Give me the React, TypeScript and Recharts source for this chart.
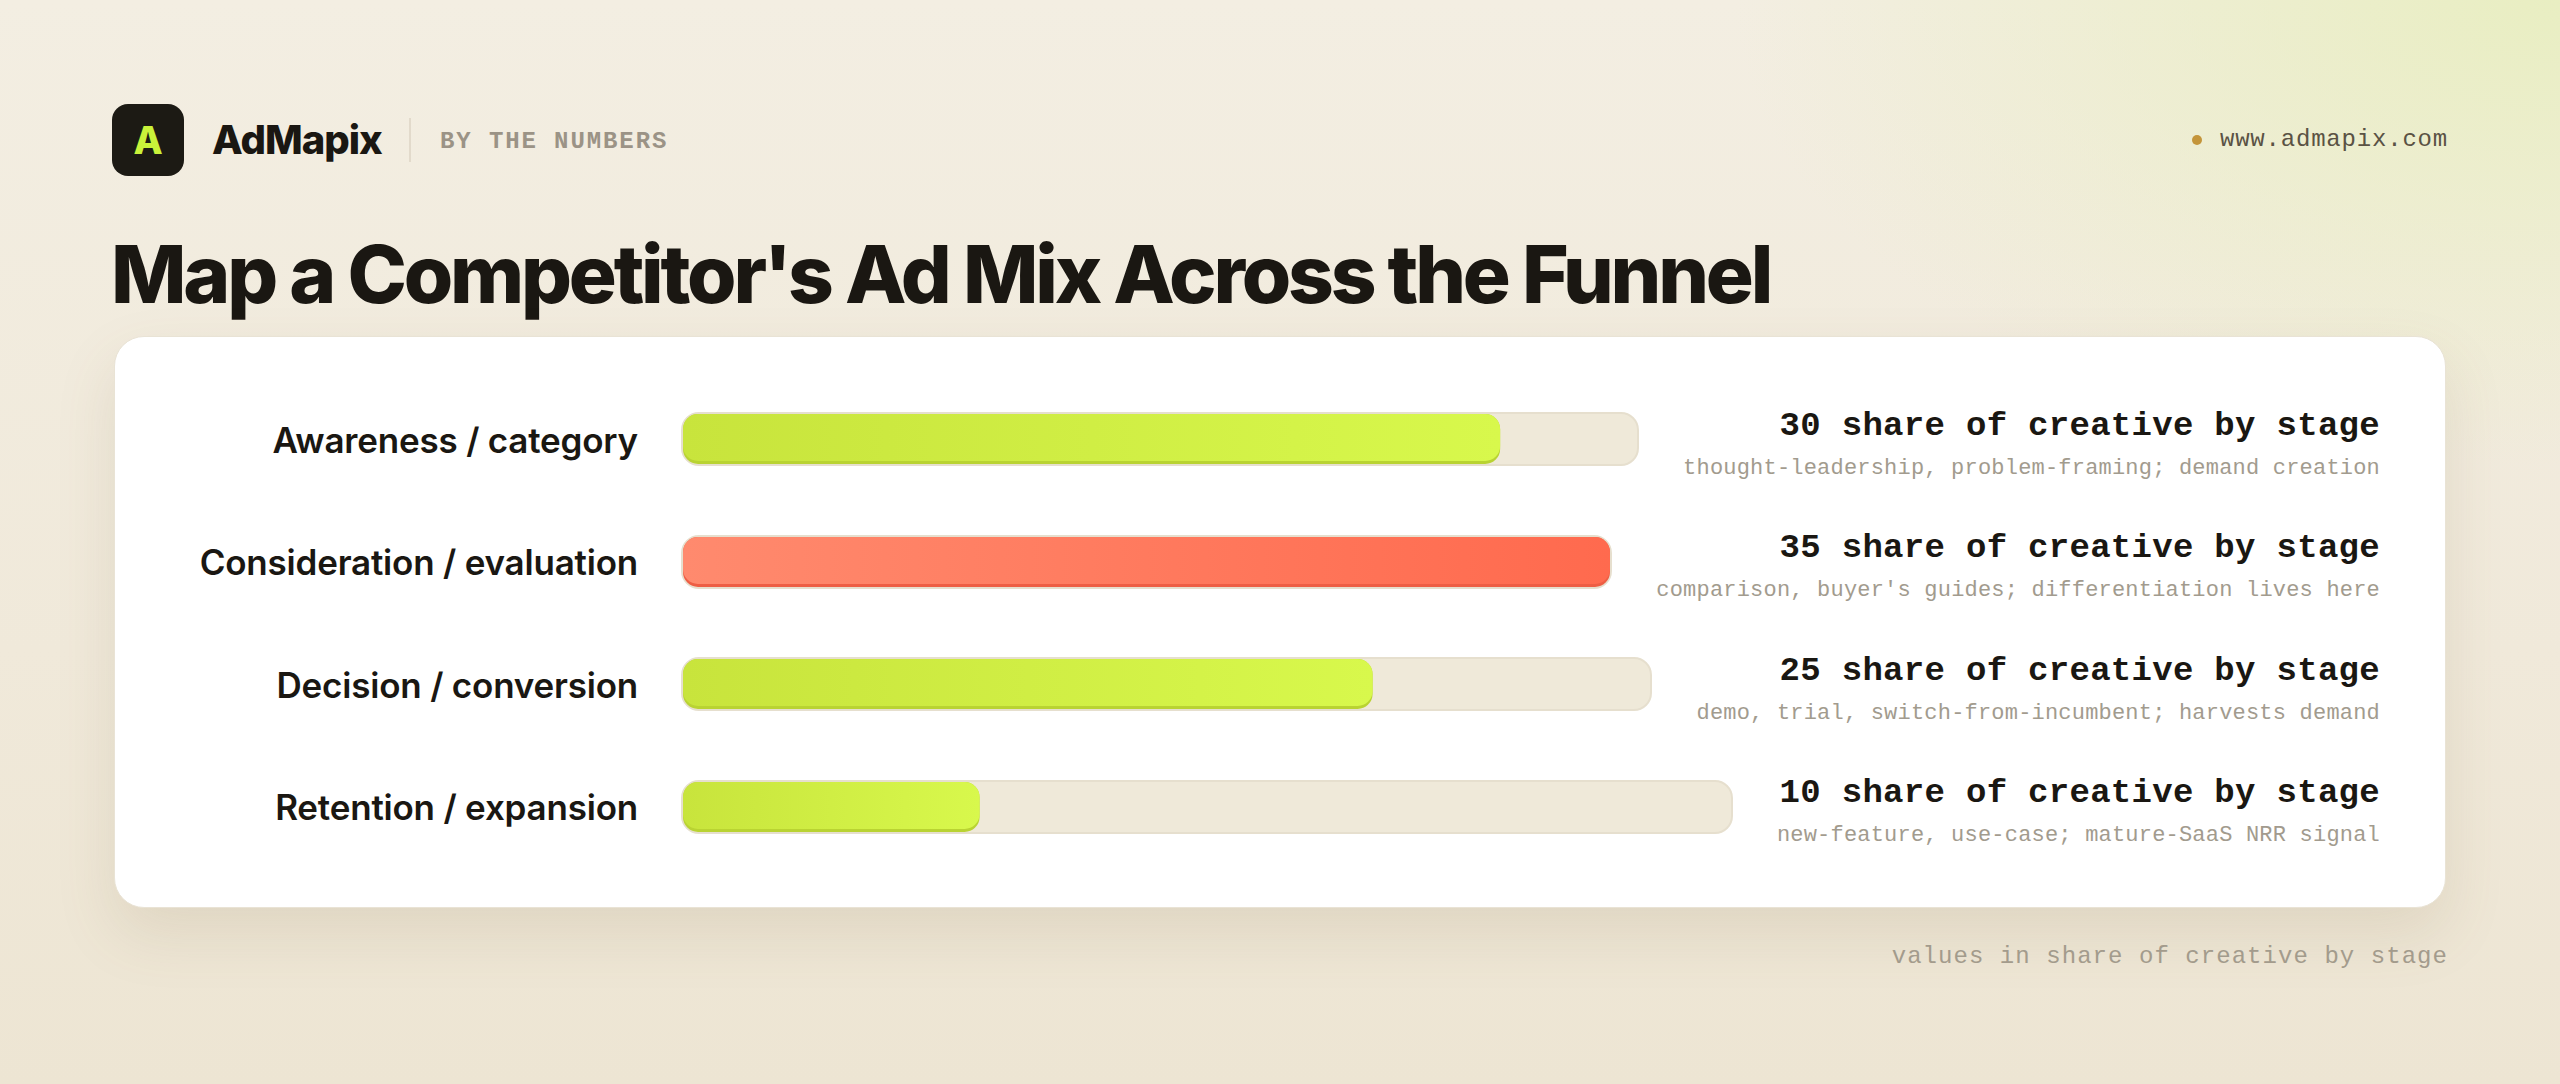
import React from 'react';
import { BarChart, Bar, XAxis, YAxis, ResponsiveContainer } from 'recharts';

// funnel stages, top to bottom
const stages = [
  'Awareness / category',
  'Consideration / evaluation',
  'Decision / conversion',
  'Retention / expansion',
];
const shares = [30, 35, 25, 10];
const notes = [
  'thought-leadership, problem-framing; demand creation',
  "comparison, buyer's guides; differentiation lives here",
  'demo, trial, switch-from-incumbent; harvests demand',
  'new-feature, use-case; mature-SaaS NRR signal',
];
const highlighted = [false, true, false, false];
const unitLabel = 'share of creative by stage';

const maxShare = Math.max(...shares);

const SANS = 'Inter, "Noto Sans", sans-serif';
const MONO = '"Liberation Mono", "DejaVu Sans Mono", monospace';

const palette = {
  lime: { from: '#c8e43c', to: '#d8f84c', shade: '#b9d332' },
  coral: { from: '#ff8a6e', to: '#ff6a4e', shade: '#ee5e44' },
};

const TrackShape = (props: any) => {
  const { x, y, width, height } = props;
  if (width == null || height == null) return null;
  return (
    <rect
      x={x + 1}
      y={y + 1}
      width={Math.max(0, width - 2)}
      height={height - 2}
      rx={17}
      ry={17}
      fill="#efe9d9"
      stroke="#e6dfce"
      strokeWidth={2}
    />
  );
};

const makeFill = (gradId: string, shade: string) => (props: any) => {
  const { x, y, width, height } = props;
  if (!width || width < 6) return null;
  const w = width - 4;
  return (
    <g>
      <rect x={x + 2} y={y + 2} width={w} height={height - 4} rx={15} ry={15} fill={shade} />
      <rect x={x + 2} y={y + 2} width={w} height={height - 7} rx={15} ry={15} fill={`url(#${gradId})`} />
    </g>
  );
};

const StageRow = ({ i }: { i: number }) => {
  const tone = highlighted[i] ? palette.coral : palette.lime;
  const gradId = `stageGrad${i}`;
  const rowData = [{ stage: stages[i], share: shares[i] }];

  return (
    <div style={{ display: 'flex', alignItems: 'center', height: 122.5 }}>
      <div
        style={{
          width: 458,
          flexShrink: 0,
          textAlign: 'right',
          fontFamily: SANS,
          fontWeight: 600,
          fontSize: 35,
          lineHeight: 1,
          letterSpacing: -0.2,
          color: '#1a1712',
          position: 'relative',
          top: 1,
        }}
      >
        {stages[i]}
      </div>
      <div style={{ flex: 1, minWidth: 0, height: 60, marginLeft: 43, marginRight: 44 }}>
        <ResponsiveContainer width="100%" height={60}>
          <BarChart
            data={rowData}
            layout="vertical"
            margin={{ top: 0, right: 0, bottom: 0, left: 0 }}
            barCategoryGap={0}
          >
            <defs>
              <linearGradient id={gradId} x1="0" y1="0" x2="1" y2="0">
                <stop offset="0%" stopColor={tone.from} />
                <stop offset="100%" stopColor={tone.to} />
              </linearGradient>
            </defs>
            <XAxis type="number" domain={[0, maxShare]} hide />
            <YAxis type="category" dataKey="stage" hide />
            <Bar
              dataKey="share"
              barSize={60}
              background={TrackShape}
              shape={makeFill(gradId, tone.shade)}
              isAnimationActive={false}
            />
          </BarChart>
        </ResponsiveContainer>
      </div>
      <div style={{ flexShrink: 0, textAlign: 'right', position: 'relative', top: 5 }}>
        <div
          style={{
            fontFamily: MONO,
            fontWeight: 700,
            fontSize: 34,
            lineHeight: '40px',
            letterSpacing: 0.3,
            color: '#1a1712',
            whiteSpace: 'nowrap',
          }}
        >
          {shares[i]} {unitLabel}
        </div>
        <div
          style={{
            marginTop: 9,
            fontFamily: MONO,
            fontSize: 22,
            lineHeight: '28px',
            letterSpacing: 0.2,
            color: '#a29b8e',
            whiteSpace: 'nowrap',
          }}
        >
          {notes[i]}
        </div>
      </div>
    </div>
  );
};

export default function App() {
  return (
    <div
      style={{
        position: 'absolute',
        left: 0,
        top: 0,
        width: 2560,
        height: 1084,
        overflow: 'hidden',
        background:
          'radial-gradient(ellipse 1100px 620px at 100% 0%, rgba(232,238,192,0.95) 0%, rgba(232,238,192,0) 75%), linear-gradient(180deg, #f3eee2 0%, #f0e9da 60%, #ede5d3 100%)',
      }}
    >
      {/* header */}
      <div
        style={{
          position: 'absolute',
          left: 112,
          top: 104,
          width: 72,
          height: 72,
          borderRadius: 16,
          background: '#1c1a14',
          display: 'flex',
          alignItems: 'center',
          justifyContent: 'center',
          fontFamily: SANS,
          fontWeight: 800,
          fontSize: 38,
          color: '#c9f23a',
          lineHeight: 1,
        }}
      >
        A
      </div>
      <div
        style={{
          position: 'absolute',
          left: 212,
          top: 120,
          fontFamily: SANS,
          fontWeight: 800,
          fontSize: 40,
          lineHeight: 1,
          letterSpacing: -1,
          color: '#1a1712',
        }}
      >
        AdMapix
      </div>
      <div style={{ position: 'absolute', left: 409, top: 118, width: 2, height: 44, background: '#e2dacb' }} />
      <div
        style={{
          position: 'absolute',
          left: 440,
          top: 130,
          fontFamily: MONO,
          fontWeight: 700,
          fontSize: 24,
          lineHeight: 1,
          letterSpacing: 1.9,
          color: '#9b9386',
          whiteSpace: 'nowrap',
        }}
      >
        BY THE NUMBERS
      </div>
      <div
        style={{
          position: 'absolute',
          right: 2560 - 2448,
          top: 128,
          display: 'flex',
          alignItems: 'center',
          fontFamily: MONO,
          fontSize: 24,
          lineHeight: 1,
          letterSpacing: 0.8,
          color: '#5a5244',
          whiteSpace: 'nowrap',
        }}
      >
        <span
          style={{ width: 10, height: 10, borderRadius: 5, background: '#c4953a', marginRight: 18, display: 'inline-block' }}
        />
        www.admapix.com
      </div>

      {/* title */}
      <div
        style={{
          position: 'absolute',
          left: 111,
          top: 234,
          fontFamily: SANS,
          fontWeight: 800,
          fontSize: 80,
          lineHeight: 1,
          letterSpacing: -3.2,
          color: '#1a1712',
          whiteSpace: 'nowrap',
        }}
      >
        Map a Competitor's Ad Mix Across the Funnel
      </div>

      {/* card */}
      <div
        style={{
          position: 'absolute',
          left: 114,
          top: 336,
          width: 2332,
          height: 572,
          boxSizing: 'border-box',
          padding: '41px 65px 41px 65px',
          background: '#ffffff',
          borderRadius: 30,
          border: '1px solid #e9e3d5',
          boxShadow: '0 26px 60px rgba(120, 100, 60, 0.13)',
        }}
      >
        {stages.map((_, i) => (
          <StageRow key={stages[i]} i={i} />
        ))}
      </div>

      {/* footnote */}
      <div
        style={{
          position: 'absolute',
          right: 2560 - 2448,
          top: 945,
          fontFamily: MONO,
          fontSize: 24,
          lineHeight: 1,
          letterSpacing: 1.05,
          color: '#a39b8c',
          whiteSpace: 'nowrap',
        }}
      >
        values in {unitLabel}
      </div>
    </div>
  );
}
